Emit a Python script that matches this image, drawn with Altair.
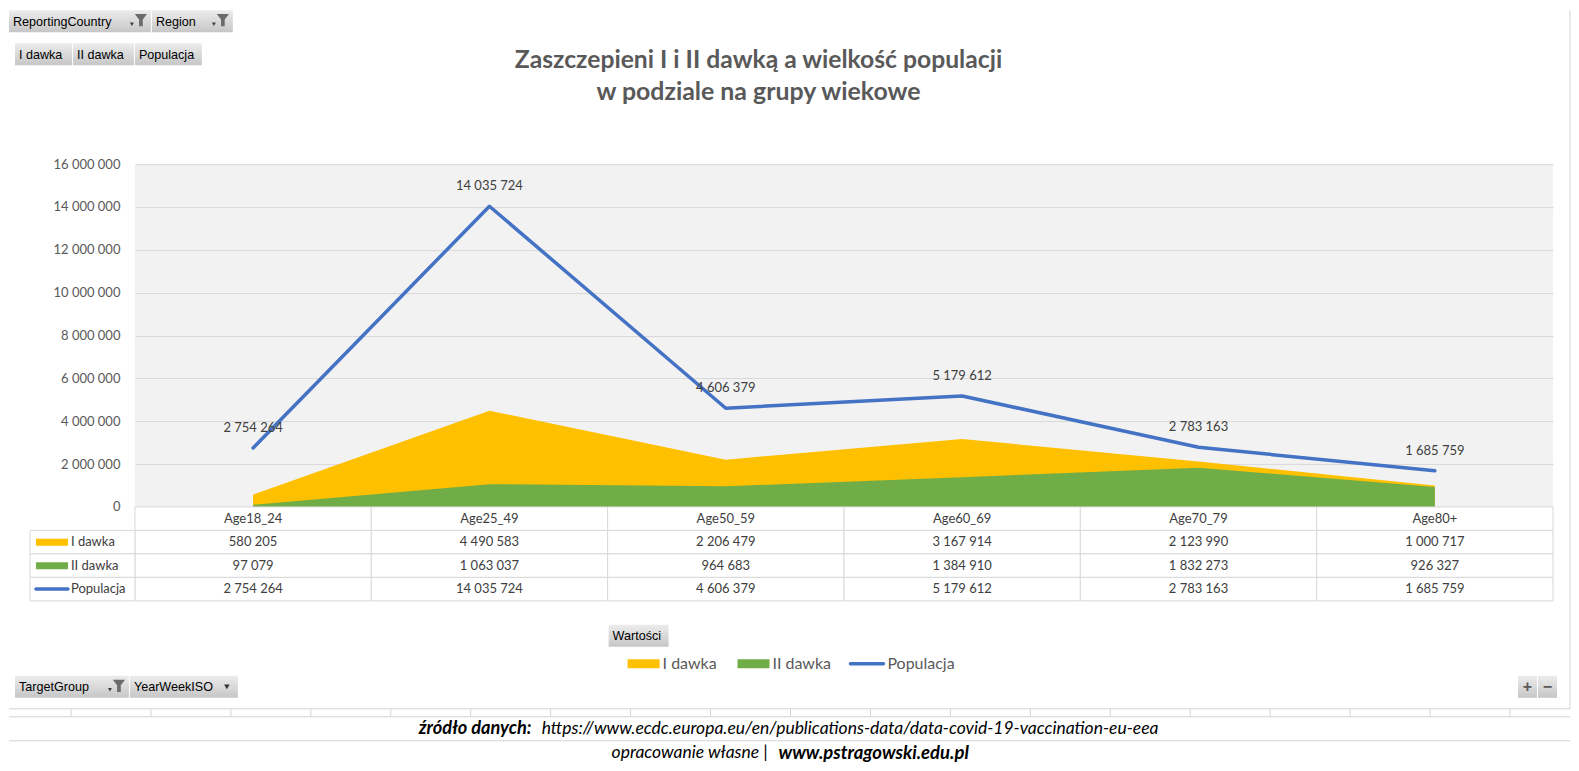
import altair as alt
import pandas as pd

# ---------------- data ----------------
ages = ["Age18_24", "Age25_49", "Age50_59", "Age60_69", "Age70_79", "Age80+"]
dose1 = [580205, 4490583, 2206479, 3167914, 2123990, 1000717]
dose2 = [97079, 1063037, 964683, 1384910, 1832273, 926327]
population = [2754264, 14035724, 4606379, 5179612, 2783163, 1685759]
series_names = ["I dawka", "II dawka", "Populacja"]
series_colors = ["#FFC000", "#70AD47", "#4472C4"]
y_ticks = [0, 2000000, 4000000, 6000000, 8000000, 10000000, 12000000, 14000000, 16000000]

title_lines = ["Zaszczepieni I i II dawką a wielkość populacji", "w podziale na grupy wiekowe"]
pivot_filters = ["ReportingCountry", "Region"]
pivot_values = ["I dawka", "II dawka", "Populacja"]
pivot_axis = ["TargetGroup", "YearWeekISO"]
values_button = "Wartości"
source_label = "źródło danych:"
source_url = "https://www.ecdc.europa.eu/en/publications-data/data-covid-19-vaccination-eu-eea"
credit_label = "opracowanie własne |"
credit_site = "www.pstragowski.edu.pl"

# ---------------- layout / style ----------------
FONT = "Lato"
BTN_FONT = "Liberation Sans"
TXT = "#404040"
GRAY = "#595959"
LINE = "#d9d9d9"
X0, Y0 = 134, 164          # page position of the plot origin
W, H = 1419, 343           # plot area
TH = 94                    # data-table height
YB = Y0 + H                # page y of the table origin

SPACE_FMT = "replace(format(datum.value, ',d'), regexp(',', 'g'), ' ')"

long = pd.DataFrame({
    "age": ages * 3,
    "row": [s for s in series_names for _ in ages],
    "value": dose1 + dose2 + population,
})
one = pd.DataFrame({"k": [0]})

BTN_FILL = alt.LinearGradient(
    gradient="linear", x1=0, y1=0, x2=0, y2=1,
    stops=[alt.GradientStop(offset=0, color="#ececec"), alt.GradientStop(offset=1, color="#c6c6c6")],
)

FUNNEL = "M-1,-1 L1,-1 L0.3,-0.1 L0.3,1 L-0.3,1 L-0.3,-0.1 Z"


def vtext(text, x, y, ox, oy, **kw):
    return alt.Chart(one).mark_text(**kw).encode(
        x=alt.value(x - ox), y=alt.value(y - oy), text=alt.value(text))


def vrect(x1, y1, x2, y2, ox, oy, **kw):
    return alt.Chart(one).mark_rect(**kw).encode(
        x=alt.value(x1 - ox), x2=alt.value(x2 - ox), y=alt.value(y1 - oy), y2=alt.value(y2 - oy))


def vrule(x1, y1, x2, y2, ox, oy, **kw):
    return alt.Chart(one).mark_rule(**kw).encode(
        x=alt.value(x1 - ox), x2=alt.value(x2 - ox), y=alt.value(y1 - oy), y2=alt.value(y2 - oy))


def vpoint(x, y, ox, oy, **kw):
    return alt.Chart(one).mark_point(**kw).encode(x=alt.value(x - ox), y=alt.value(y - oy))


def button(label, x1, y1, x2, y2, ox, oy, funnel=False, arrow=False, font_size=12.6):
    out = [vrect(x1, y1, x2, y2, ox, oy, fill=BTN_FILL),
           vtext(label, x1 + 4, (y1 + y2) / 2 + 0.5, ox, oy, align="left", baseline="middle",
                 font=BTN_FONT, fontSize=font_size, color="#000000")]
    if funnel:
        out.append(vpoint(x2 - 19, (y1 + y2) / 2 + 3, ox, oy, shape="triangle-down", size=16,
                          filled=True, color="#404040", opacity=1))
        out.append(vpoint(x2 - 10, (y1 + y2) / 2 - 1, ox, oy, shape=FUNNEL, size=150,
                          filled=True, color="#6b6b6b", opacity=1))
    if arrow:
        out.append(vpoint(x2 - 11, (y1 + y2) / 2, ox, oy, shape="triangle-down", size=30,
                          filled=True, color="#333333", opacity=1))
    return out


# ---------------- main panel ----------------
x_pt = alt.X("age:N", sort=ages, scale=alt.Scale(type="point", domain=ages, padding=0.5), axis=None)
y_q = alt.Y("value:Q", scale=alt.Scale(domain=[0, 16000000], nice=False),
            axis=alt.Axis(values=y_ticks, labelExpr=SPACE_FMT, title=None, domain=False, ticks=False,
                          labelPadding=15, labelFontSize=13, labelFont=FONT, labelColor=GRAY,
                          gridColor=LINE, gridWidth=1))

base = alt.Chart(long)
area1 = base.transform_filter(alt.datum.row == series_names[0]).mark_area(
    color=series_colors[0], opacity=1).encode(x=x_pt, y=y_q)
area2 = base.transform_filter(alt.datum.row == series_names[1]).mark_area(
    color=series_colors[1], opacity=1).encode(x=x_pt, y=y_q)
pop = base.transform_filter(alt.datum.row == series_names[2])
line = pop.mark_line(color=series_colors[2], strokeWidth=3.5, strokeCap="round",
                     strokeJoin="round").encode(x=x_pt, y=y_q)
labels = pop.transform_calculate(label=SPACE_FMT).mark_text(
    dy=-20, fontSize=13, font=FONT, color=TXT).encode(x=x_pt, y=y_q, text="label:N")

deco_a = []
deco_a += button(pivot_filters[0], 8, 10, 150, 32, X0, Y0, funnel=True)
deco_a += button(pivot_filters[1], 151, 10, 232, 32, X0, Y0, funnel=True)
deco_a += button(pivot_values[0], 14, 43, 71, 65, X0, Y0)
deco_a += button(pivot_values[1], 72, 43, 133, 65, X0, Y0)
deco_a += button(pivot_values[2], 134, 43, 201, 65, X0, Y0)
deco_a.append(vtext(title_lines[0], 758, 61, X0, Y0, align="center", baseline="middle",
                    font=FONT, fontSize=24.7, fontWeight="bold", color=GRAY))
deco_a.append(vtext(title_lines[1], 758, 93, X0, Y0, align="center", baseline="middle",
                    font=FONT, fontSize=24.9, fontWeight="bold", color=GRAY))

panel_a = alt.layer(area1, area2, line, labels, *deco_a).properties(
    width=W, height=H, view=alt.ViewBackground(fill="#f2f2f2", strokeWidth=0))

# ---------------- table panel ----------------
rows = ["hdr"] + series_names
x_b = alt.X("age:N", scale=alt.Scale(domain=ages, paddingInner=0, paddingOuter=0), axis=None)
y_b = alt.Y("row:N", scale=alt.Scale(domain=rows, paddingInner=0, paddingOuter=0), axis=None)

cells_df = pd.DataFrame({"age": [a for _ in rows for a in ages], "row": [r for r in rows for _ in ages]})
hdr_df = pd.DataFrame({"age": ages, "row": ["hdr"] * len(ages)})
ser_df = pd.DataFrame({"row": series_names})

cells = alt.Chart(cells_df).mark_rect(fill="#ffffff", stroke=LINE, strokeWidth=1).encode(x=x_b, y=y_b)
left_cells = alt.Chart(ser_df).mark_rect(fill="#ffffff", stroke=LINE, strokeWidth=1).encode(
    x=alt.value(29 - X0), x2=alt.value(0), y=y_b)
hdr_text = alt.Chart(hdr_df).mark_text(fontSize=13, font=FONT, color=TXT).encode(
    x=x_b, y=y_b, text="age:N")
val_text = alt.Chart(long).transform_calculate(label=SPACE_FMT).mark_text(
    fontSize=13, font=FONT, color=TXT).encode(x=x_b, y=y_b, text="label:N")
name_text = alt.Chart(ser_df).mark_text(fontSize=13, font=FONT, color=TXT, align="left").encode(
    x=alt.value(70 - X0), y=y_b, text="row:N")
col_scale = alt.Scale(domain=series_names, range=series_colors)
sw_area = alt.Chart(ser_df).transform_filter(alt.datum.row != series_names[2]).mark_rule(
    strokeWidth=7, strokeCap="butt").encode(
    x=alt.value(35 - X0), x2=alt.value(67 - X0), y=y_b,
    color=alt.Color("row:N", scale=col_scale, legend=None))
sw_line = alt.Chart(ser_df).transform_filter(alt.datum.row == series_names[2]).mark_rule(
    strokeWidth=3.5, strokeCap="round").encode(
    x=alt.value(35 - X0), x2=alt.value(67 - X0), y=y_b,
    color=alt.Color("row:N", scale=col_scale, legend=None))

deco_b = []
# "Wartości" button and legend
deco_b += button(values_button, 608, 625, 668, 647, X0, YB)
LY = 664
deco_b.append(vrule(627, LY, 659, LY, X0, YB, color=series_colors[0], strokeWidth=9))
deco_b.append(vtext(series_names[0], 662, LY, X0, YB, align="left", baseline="middle",
                    font=FONT, fontSize=16, color=GRAY))
deco_b.append(vrule(737, LY, 769, LY, X0, YB, color=series_colors[1], strokeWidth=9))
deco_b.append(vtext(series_names[1], 772, LY, X0, YB, align="left", baseline="middle",
                    font=FONT, fontSize=16, color=GRAY))
deco_b.append(vrule(850, LY, 883, LY, X0, YB, color=series_colors[2], strokeWidth=3.5,
                    strokeCap="round"))
deco_b.append(vtext(series_names[2], 887, LY, X0, YB, align="left", baseline="middle",
                    font=FONT, fontSize=16, color=GRAY))
# pivot axis buttons and zoom buttons
deco_b += button(pivot_axis[0], 14, 676, 128, 698, X0, YB, funnel=True)
deco_b += button(pivot_axis[1], 129, 676, 237, 698, X0, YB, arrow=True)
deco_b.append(vrect(1518, 676, 1537, 698, X0, YB, fill=BTN_FILL))
deco_b.append(vrect(1538, 676, 1557, 698, X0, YB, fill=BTN_FILL))
deco_b.append(vtext("+", 1527.5, 687, X0, YB, align="center", baseline="middle",
                    font=BTN_FONT, fontSize=16, fontWeight="bold", color="#595959"))
deco_b.append(vtext("−", 1547.5, 687, X0, YB, align="center", baseline="middle",
                    font=BTN_FONT, fontSize=16, fontWeight="bold", color="#595959"))
# chart frame and spreadsheet grid
deco_b.append(vrule(8, 709, 1570, 709, X0, YB, color="#d4d4d4", strokeWidth=1))
deco_b.append(vrule(1570, 10, 1570, 709, X0, YB, color="#d4d4d4", strokeWidth=1))
deco_b.append(vrule(8, 717, 1570, 717, X0, YB, color="#d4d4d4", strokeWidth=1))
deco_b.append(vrule(8, 741, 1570, 741, X0, YB, color="#d4d4d4", strokeWidth=1))
for gx in range(70, 1570, 80):
    deco_b.append(vrule(gx, 709, gx, 717, X0, YB, color="#d4d4d4", strokeWidth=1))
# footer
deco_b.append(vtext(source_label, 418, 729, X0, YB, align="left", baseline="middle", font=FONT,
                    fontSize=18.2, fontStyle="italic", fontWeight="bold", color="#000000"))
deco_b.append(vtext(source_url, 541, 729, X0, YB, align="left", baseline="middle", font=FONT,
                    fontSize=17.5, fontStyle="italic", color="#000000"))
deco_b.append(vtext(credit_label, 611, 753, X0, YB, align="left", baseline="middle", font=FONT,
                    fontSize=17.5, fontStyle="italic", color="#000000"))
deco_b.append(vtext(credit_site, 778, 753, X0, YB, align="left", baseline="middle", font=FONT,
                    fontSize=18.5, fontStyle="italic", fontWeight="bold", color="#000000"))

panel_b = alt.layer(cells, left_cells, hdr_text, val_text, name_text, sw_area, sw_line,
                    *deco_b).properties(width=W, height=TH)

chart = alt.vconcat(panel_a, panel_b, spacing=0, bounds="flush").properties(
    padding={"left": 0, "top": 1, "right": 0, "bottom": 0}, background="#ffffff"
).configure_view(strokeWidth=0)

chart.save("out.html", embed_options={"renderer": "svg", "actions": False})
